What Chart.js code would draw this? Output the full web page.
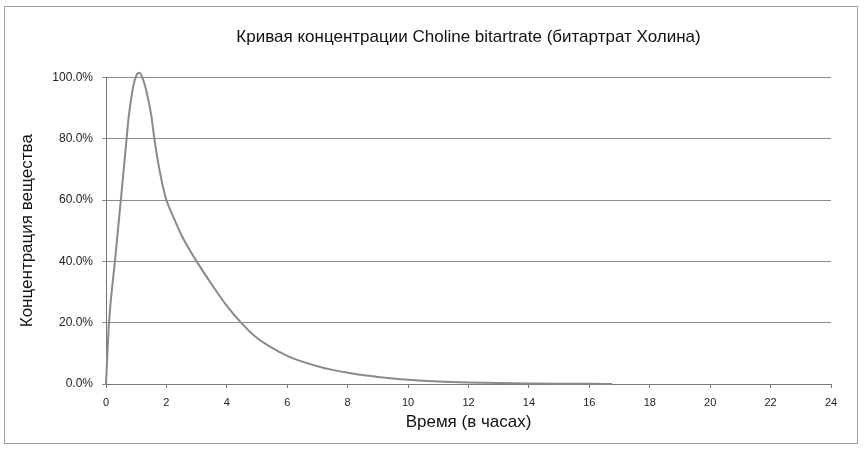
<!DOCTYPE html>
<html>
<head>
<meta charset="utf-8">
<script src="https://cdn.jsdelivr.net/npm/chart.js@4.4.1/dist/chart.umd.min.js"></script>
<style>
    body { margin: 0; background: #fff; }
    #frame { position: absolute; left: 4px; top: 6px; width: 852px; height: 436px; border: 1px solid #a0a0a0; }
    #lineChart { position: absolute; left: 0; top: 0; }
</style>
</head>
<body>
<div id="frame"></div>
<canvas id="lineChart" width="864" height="455"></canvas>
<script>
// time points (hours) and concentration (% of peak)
const hours = [0, 0.1, 0.3, 0.5, 0.7, 0.75, 0.9, 1.0, 1.1, 1.2, 1.35, 1.5, 1.6, 1.73, 1.86,
    2.0, 2.25, 2.5, 2.75, 3.0, 3.5, 4.0, 4.5, 5.0, 5.5, 6.0, 6.5, 7.0, 7.5, 8.0, 8.5,
    9.0, 9.5, 10, 11, 12, 13, 14, 15, 16, 16.75];
const concentration = [0, 20, 40.5, 61, 82, 87, 97, 100.5, 101.5, 100, 95, 87.5, 80, 72, 65.5,
    60, 54, 48.5, 44, 40, 32.5, 25.5, 19.7, 15, 11.8, 9.2, 7.3, 5.8, 4.6, 3.7, 2.9,
    2.3, 1.8, 1.4, 0.85, 0.5, 0.3, 0.18, 0.1, 0.06, 0.04];

const xTicks = [0, 2, 4, 6, 8, 10, 12, 14, 16, 18, 20, 22, 24];
const yTicks = [0, 20, 40, 60, 80, 100];

const fontFamily = "'Liberation Sans', Arial, sans-serif";

function createChart() {
    const ctx = document.getElementById('lineChart');
    const points = hours.map((h, i) => ({ x: h, y: concentration[i] }));

    new Chart(ctx, {
        type: 'line',
        data: {
            datasets: [
                {
                    data: points,
                    borderColor: '#8a8a8a',
                    borderWidth: 2,
                    pointRadius: 0,
                    cubicInterpolationMode: 'monotone',
                    clip: false,
                },
            ],
        },
        options: {
            responsive: false,
            animation: false,
            layout: {
                padding: { left: 5, right: 33, top: 0, bottom: 0 },
            },
            scales: {
                x: {
                    type: 'linear',
                    min: 0,
                    max: 24,
                    afterBuildTicks: s => { s.ticks = xTicks.map(v => ({ value: v })); },
                    afterFit: s => { s.height = 71; },
                    ticks: {
                        color: '#222',
                        padding: 8,
                        maxRotation: 0,
                        font: { family: fontFamily, size: 11 },
                    },
                    grid: {
                        drawOnChartArea: false,
                        drawTicks: true,
                        tickLength: 4,
                        color: '#777',
                    },
                    border: { color: '#777', width: 1 },
                    title: {
                        display: true,
                        text: 'Время (в часах)',
                        color: '#111',
                        font: { family: fontFamily, size: 17 },
                        padding: { top: 0, bottom: 22 },
                    },
                },
                y: {
                    min: 0,
                    max: 100,
                    afterBuildTicks: s => { s.ticks = yTicks.map(v => ({ value: v })); },
                    afterFit: s => { s.width = 101; },
                    ticks: {
                        color: '#222',
                        padding: 9,
                        font: { family: fontFamily, size: 12 },
                        callback: v => v.toFixed(1) + '%',
                    },
                    grid: {
                        color: '#8c8c8c',
                        lineWidth: 1,
                        drawTicks: true,
                        tickLength: 4,
                    },
                    border: { color: '#777', width: 1 },
                    title: {
                        display: true,
                        text: 'Концентрация вещества',
                        color: '#111',
                        font: { family: fontFamily, size: 17 },
                        padding: { top: 12, bottom: 0 },
                    },
                },
            },
            plugins: {
                title: {
                    display: true,
                    fullSize: false,
                    text: 'Кривая концентрации Choline bitartrate (битартрат Холина)',
                    color: '#111',
                    font: { family: fontFamily, size: 17, weight: 'normal' },
                    padding: { top: 27, bottom: 30 },
                },
                legend: { display: false },
                tooltip: { enabled: false },
            },
        },
    });
}

createChart();
</script>
</body>
</html>
